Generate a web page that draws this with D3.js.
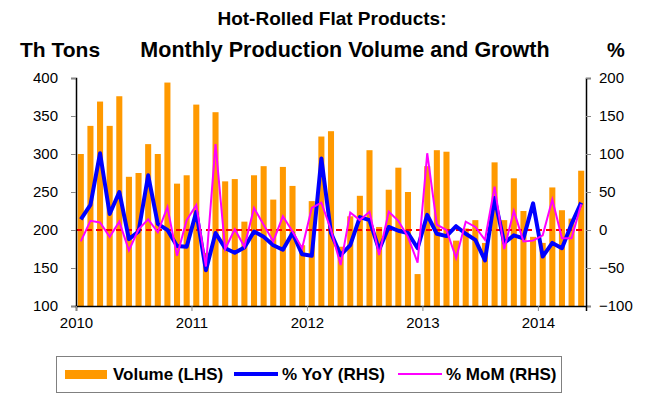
<!DOCTYPE html>
<html>
<head>
<meta charset="utf-8">
<script src="https://cdnjs.cloudflare.com/ajax/libs/d3/7.8.5/d3.min.js"></script>
<style>
    body { margin: 0; background: #fff; }
    svg { display: block; font-family: 'Liberation Sans', Arial, sans-serif; }
</style>
</head>
<body>
<div id="chart"></div>
<script>
// Monthly categories, Jan 2010 - May 2014
var years = [2010, 2011, 2012, 2013, 2014];
var months = d3.timeMonths(new Date(2010, 0, 1), new Date(2014, 5, 1));

// Production volume, thousand tons (LHS)
var volume = [300, 337, 369, 337, 376, 270, 275, 313, 300, 394, 261, 272,
              365, 170, 355, 264, 267, 211, 272, 284, 240, 283, 258, 180,
              238, 323, 330, 178, 218, 245, 305, 204, 253, 282, 250, 142,
              284, 305, 303, 186, 202, 213, 183, 289, 213, 268, 225, 191,
              183, 256, 226, 215, 278];

// Growth, % (RHS)
var yoy = [14, 33, 101, 21, 50, -12, -2, 72, 8, 0, -21, -22,
           24, -53, -4, -24, -30, -23, -2, -9, -20, -26, -4, -32,
           -34, 94, -4, -33, -20, 17, 13, -26, 4, -1, -4, -24,
           20, -5, -8, 5, -5, -13, -40, 42, -17, -7, -11, 35,
           -35, -17, -24, 8, 36];
var mom = [-15, 12, 10, -9, 11, -27, 1, 14, -3, 30, -34, 13,
           33, -48, 113, -25, 1, -22, 29, 7, -15, 18, -2, -24,
           29, 36, 0, -46, 23, 13, 24, -33, 24, 12, -9, -43,
           101, 7, 0, -37, 11, 4, -13, 57, -25, 25, -15, -14,
           -7, 40, -11, -11, 34];

var leftTicks = [100, 150, 200, 250, 300, 350, 400];
var rightTicks = [-100, -50, 0, 50, 100, 150, 200];

var width = 648, height = 402;
var plot = {left: 76, right: 586, top: 78, bottom: 306};

var svg = d3.select('#chart').append('svg')
    .attr('width', width)
    .attr('height', height);

var keys = months.map(function(m, i) { return i; });

var xBand = d3.scaleBand()
    .domain(keys)
    .range([plot.left, plot.right])
    .paddingInner(0.37)
    .paddingOuter(0.185);

// linear scale on month boundaries, used for the year ticks
var xLin = d3.scaleLinear()
    .domain([0, months.length])
    .range([plot.left, plot.right]);

var yLeft = d3.scaleLinear()
    .domain([100, 400])
    .range([plot.bottom, plot.top]);

var yRight = d3.scaleLinear()
    .domain([-100, 200])
    .range([plot.bottom, plot.top]);

var cx = function(i) { return xBand(i) + xBand.bandwidth() / 2; };

// Bars
svg.append('g').selectAll('rect')
    .data(volume).enter()
    .append('rect')
        .attr('x', function(d, i) { return xBand(i); })
        .attr('y', function(d) { return yLeft(d); })
        .attr('width', xBand.bandwidth())
        .attr('height', function(d) { return yLeft(100) - yLeft(d); })
        .attr('fill', '#FF9900');

// Zero line
svg.append('line')
    .attr('x1', plot.left)
    .attr('x2', plot.right)
    .attr('y1', yRight(0))
    .attr('y2', yRight(0))
    .attr('stroke', '#FF0000')
    .attr('stroke-width', 2)
    .attr('stroke-dasharray', '6,4');

var line = d3.line()
    .x(function(d, i) { return cx(i); })
    .y(function(d) { return yRight(d); });

svg.append('path')
    .datum(yoy)
    .attr('fill', 'none')
    .attr('stroke', '#0000FF')
    .attr('stroke-width', 4)
    .attr('stroke-linejoin', 'round')
    .attr('d', line);

svg.append('path')
    .datum(mom)
    .attr('fill', 'none')
    .attr('stroke', '#FF00FF')
    .attr('stroke-width', 2)
    .attr('d', line);

// Axes
var leftAxis = svg.append('g')
    .attr('transform', 'translate(' + plot.left + ',0)')
    .call(d3.axisLeft(yLeft).tickValues(leftTicks).tickSize(5).tickPadding(13));

var rightAxis = svg.append('g')
    .attr('transform', 'translate(' + plot.right + ',0)')
    .call(d3.axisRight(yRight).tickValues(rightTicks).tickSize(5).tickPadding(8));

var bottomAxis = svg.append('g')
    .attr('transform', 'translate(0,' + plot.bottom + ')')
    .call(d3.axisBottom(xLin)
        .tickValues(years.map(function(y, i) { return i * 12; }))
        .tickFormat(function(d, i) { return years[i]; })
        .tickSize(5).tickPadding(6));

[leftAxis, rightAxis, bottomAxis].forEach(function(ax) {
    ax.select('.domain').attr('stroke', '#000').attr('stroke-width', 1.5);
    ax.selectAll('.tick line').attr('stroke', '#888');
    ax.selectAll('text')
        .attr('fill', '#000')
        .style('font-size', '15px')
        .style('font-family', "'Liberation Sans', Arial, sans-serif");
});

// Titles
var title = svg.append('g')
    .attr('font-weight', 'bold')
    .attr('font-size', '20px')
    .attr('fill', '#000');

title.append('text')
    .attr('x', 332).attr('y', 25)
    .attr('text-anchor', 'middle')
    .attr('font-size', '19px')
    .text('Hot-Rolled Flat Products:');

title.append('text')
    .attr('x', 345).attr('y', 57)
    .attr('text-anchor', 'middle')
    .attr('font-size', '21.5px')
    .text('Monthly Production Volume and Growth');

title.append('text')
    .attr('x', 20).attr('y', 57)
    .attr('font-size', '21px')
    .text('Th Tons');

title.append('text')
    .attr('x', 607).attr('y', 57)
    .text('%');

// Legend
var legend = svg.append('g');
legend.append('rect')
    .attr('x', 56.5).attr('y', 356.5)
    .attr('width', 505).attr('height', 36)
    .attr('fill', '#fff')
    .attr('stroke', '#808080');

var items = [
    {label: 'Volume (LHS)', x: 65, textX: 113, type: 'bar', color: '#FF9900'},
    {label: '% YoY (RHS)', x: 234, textX: 282, type: 'line', color: '#0000FF', w: 4},
    {label: '% MoM (RHS)', x: 398, textX: 446, type: 'line', color: '#FF00FF', w: 2}
];

items.forEach(function(it) {
    if (it.type === 'bar') {
        legend.append('rect')
            .attr('x', it.x).attr('y', 370)
            .attr('width', 42).attr('height', 9)
            .attr('fill', it.color);
    }
    else {
        legend.append('line')
            .attr('x1', it.x).attr('x2', it.x + 44)
            .attr('y1', 374).attr('y2', 374)
            .attr('stroke', it.color)
            .attr('stroke-width', it.w);
    }
    legend.append('text')
        .attr('x', it.textX).attr('y', 380)
        .attr('font-weight', 'bold')
        .attr('font-size', '17px')
        .text(it.label);
});
</script>
</body>
</html>
